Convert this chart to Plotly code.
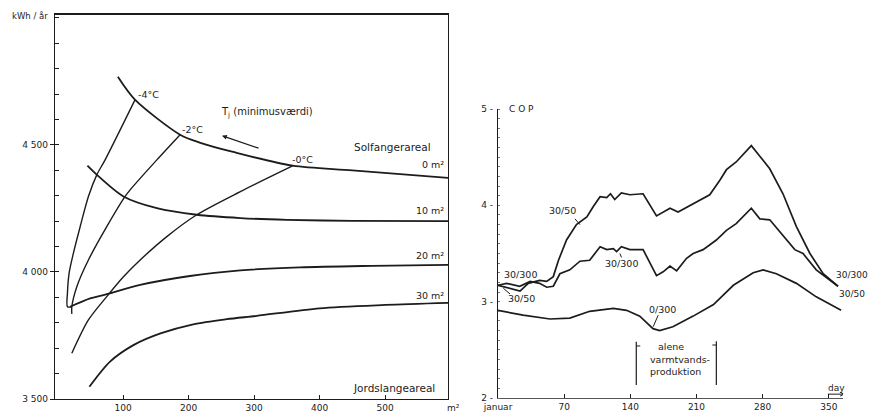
import plotly.graph_objects as go

# ---------------- Left panel data (kWh/år vs Jordslangeareal m²) ----------------
sol0_x = [92, 118, 187, 218, 268, 359, 450, 596]
sol0_y = [4768, 4678, 4540, 4508, 4472, 4418, 4400, 4370]
sol10_x = [45.5, 60, 100.5, 151.5, 212.5, 279, 350, 450, 596]
sol10_y = [4418, 4382, 4297, 4251, 4225, 4212, 4205, 4201, 4200]
sol20_x = [19, 49.6, 70, 126, 202, 279, 370, 480, 596]
sol20_y = [3863, 3896, 3909, 3949, 3984, 4006, 4018, 4024, 4028]
sol30_x = [48.5, 80, 115.7, 157, 207, 258, 304, 400, 500, 596]
sol30_y = [3548, 3647, 3712, 3758, 3794, 3814, 3827, 3857, 3870, 3878]

t4_x = [118.3, 72.5, 59.8, 47, 34.4, 24.1, 17.6, 15, 15, 21.7]
t4_y = [4678, 4441, 4382, 4297, 4178, 4074, 3996, 3917, 3863, 3863]
t2_x = [187, 151.5, 110.7, 103, 75, 47, 29.3, 21.7, 21.7]
t2_y = [4540, 4441, 4323, 4297, 4178, 4047, 3942, 3863, 3835]
t0_x = [359.5, 279, 212.5, 166.7, 126, 100.5, 75, 47, 21.7]
t0_y = [4418, 4316, 4225, 4139, 4047, 3981, 3903, 3811, 3680]

left_xticks = [100, 200, 300, 400, 500]
left_yticks = [3500, 4000, 4500]
left_ytext = ["3 500", "4 000", "4 500"]

# ---------------- Right panel data (COP vs day) ----------------
d3050 = [0, 23.3, 32, 44, 51.5, 58.5, 64, 72.5, 83, 94, 101, 108, 115, 119, 123.5,
         130.5, 139.5, 153.5, 167.7, 174.7, 182, 190.5, 203, 213.5, 224, 234.7, 241.7,
         252, 268, 277, 287.5, 301.5, 315.7, 330, 344, 359.7]
c3050 = [3.17, 3.11, 3.19, 3.22, 3.21, 3.26, 3.43, 3.64, 3.80, 3.88, 3.99, 4.09, 4.08,
         4.12, 4.06, 4.13, 4.11, 4.12, 3.89, 3.93, 3.97, 3.93, 4.00, 4.06, 4.11, 4.26,
         4.37, 4.45, 4.62, 4.51, 4.38, 4.12, 3.78, 3.50, 3.29, 3.16]
d30300 = [0, 9, 23, 34, 44, 51.5, 58.5, 65.5, 76, 86.7, 97, 108, 115, 122, 125.5, 130.5,
          139.5, 153.5, 167.7, 174.7, 182, 189, 199.5, 206.5, 217, 231, 241.7, 252, 268,
          277, 287.5, 301.5, 314, 322.7, 336.7, 359.7]
c30300 = [3.17, 3.19, 3.16, 3.21, 3.19, 3.15, 3.16, 3.29, 3.33, 3.42, 3.43, 3.57, 3.54,
          3.55, 3.52, 3.57, 3.54, 3.54, 3.27, 3.31, 3.37, 3.32, 3.45, 3.50, 3.54, 3.64,
          3.74, 3.81, 3.97, 3.86, 3.85, 3.68, 3.54, 3.50, 3.33, 3.16]
d0300 = [0, 26.5, 55, 76, 97, 122, 136, 150, 164, 171, 185, 206.5, 228, 249, 270, 280.5,
         294.5, 315.7, 336.7, 363]
c0300 = [2.91, 2.86, 2.82, 2.83, 2.90, 2.93, 2.91, 2.85, 2.72, 2.70, 2.74, 2.85, 2.97,
         3.17, 3.30, 3.33, 3.29, 3.19, 3.05, 2.91]

right_xticks = [0, 70, 140, 210, 280, 350]
right_xtext = ["januar", "70", "140", "210", "280", "350"]
right_yticks = [2, 3, 4, 5]
right_ytext = ["2 -", "3 -", "4 -", "5 -"]

INK = "#1c1c1c"
FONT = "DejaVu Sans"

fig = go.Figure()

def line(x, y, xa, ya, w=1.8, shape="spline"):
    fig.add_trace(go.Scatter(x=x, y=y, mode="lines", xaxis=xa, yaxis=ya,
                             line=dict(color=INK, width=w, shape=shape, smoothing=0.8),
                             hoverinfo="skip", showlegend=False))

for xs, ys in [(sol0_x, sol0_y), (sol10_x, sol10_y), (sol20_x, sol20_y), (sol30_x, sol30_y)]:
    line(xs, ys, "x", "y")
for xs, ys in [(t4_x, t4_y), (t2_x, t2_y), (t0_x, t0_y)]:
    line(xs, ys, "x", "y", w=1.4)

for xs, ys in [(d3050, c3050), (d30300, c30300), (d0300, c0300)]:
    line(xs, ys, "x2", "y2", w=1.7, shape="linear")

ann = []
def txt(x, y, t, xr="x", yr="y", xanchor="center", size=10, yanchor="middle"):
    ann.append(dict(x=x, y=y, xref=xr, yref=yr, text=t, showarrow=False,
                    xanchor=xanchor, yanchor=yanchor,
                    font=dict(family=FONT, size=size, color=INK)))

# left panel texts
txt(50/871, (414-16)/414, "kWh / år", "paper", "paper", xanchor="right", size=8.5)
txt(119, 4700, "-4°C", xanchor="left", size=9.5)
txt(187, 4560, "-2°C", xanchor="left", size=9.5)
txt(355, 4442, "-0°C", xanchor="left", size=9.5)
txt(247, 4626, "T<sub>j</sub> (minimusværdi)", xanchor="left", size=10)
txt(511, 4492, "Solfangerareal", size=10.5)
txt(593, 4421, "0 m²", xanchor="right", size=9.5)
txt(593, 4240, "10 m²", xanchor="right", size=9.5)
txt(593, 4063, "20 m²", xanchor="right", size=9.5)
txt(593, 3909, "30 m²", xanchor="right", size=9.5)
txt(514, 3543, "Jordslangeareal", size=10.5)
txt(453/871, (414-408)/414, "m²", "paper", "paper", size=9)
ann.append(dict(x=251, y=4536, ax=309, ay=4485, xref="x", yref="y", axref="x", ayref="y",
                showarrow=True, arrowhead=2, arrowsize=0.8, arrowwidth=1.2, arrowcolor=INK, text=""))

# right panel texts
txt(10, 5.0, "C O P", "x2", "y2", xanchor="left", size=9)
txt(68.7, 3.95, "30/50", "x2", "y2", size=9.5)
txt(130.8, 3.40, "30/300", "x2", "y2", size=9.5)
txt(23.3, 3.28, "30/300", "x2", "y2", size=9.5)
txt(25, 3.035, "30/50", "x2", "y2", size=9.5)
txt(174, 2.92, "0/300", "x2", "y2", size=9.5)
txt(870/871, 3.28, "30/300", "paper", "y2", xanchor="right", size=9)
txt(867/871, 3.08, "30/50", "paper", "y2", xanchor="right", size=9)
txt(167, 2.53, "alene", "x2", "y2", xanchor="left", size=9.5)
txt(159, 2.40, "varmtvands-", "x2", "y2", xanchor="left", size=9.5)
txt(159, 2.27, "produktion", "x2", "y2", xanchor="left", size=9.5)
txt(358, 2.10, "day", "x2", "y2", size=9)

shapes = []
def seg(x0, y0, x1, y1, xr="x2", yr="y2", w=1.0):
    shapes.append(dict(type="line", x0=x0, y0=y0, x1=x1, y1=y1, xref=xr, yref=yr,
                       line=dict(color=INK, width=w)))
# leader lines
seg(81.4, 3.86, 86.7, 3.80)
seg(12.7, 3.08, 5.6, 3.14)
seg(169.5, 2.86, 164.2, 2.74)
seg(129, 3.50, 130.6, 3.46)
# bracket
seg(146.3, 2.585, 146.3, 2.135, w=1.2)
seg(146.3, 2.54, 150.5, 2.54)
seg(231, 2.59, 231, 2.135, w=1.2)
seg(231, 2.55, 226.8, 2.55)
# day arrow
seg(349, 2.04, 366, 2.04)
seg(366, 2.04, 362, 2.06)
seg(366, 2.04, 362, 2.02)
# thick top border of left panel
shapes.append(dict(type="line", x0=0, x1=1, y0=1, y1=1, xref="x domain", yref="y domain",
                   line=dict(color=INK, width=2.2)))

tickfont = dict(family=FONT, size=9, color=INK)
fig.update_layout(
    width=871, height=414, margin=dict(l=0, r=0, t=0, b=0, autoexpand=False),
    paper_bgcolor="white", plot_bgcolor="white",
    annotations=ann, shapes=shapes,
    xaxis=dict(domain=[55/871, 448/871], range=[-4, 596], showgrid=False, zeroline=False,
               automargin=False,
               showline=True, linecolor=INK, linewidth=1.4, mirror=True,
               tickmode="array", tickvals=left_xticks, ticks="inside", ticklen=4,
               tickcolor=INK, tickfont=tickfont),
    yaxis=dict(domain=[15/414, 400/414], range=[3500, 5015], showgrid=False, zeroline=False,
               automargin=False,
               showline=True, linecolor=INK, linewidth=1.4, mirror=True,
               tickmode="array", tickvals=left_yticks, ticktext=left_ytext,
               ticks="outside", ticklen=4, tickcolor=INK, tickfont=tickfont,
               minor=dict(dtick=100, ticks="inside", ticklen=4, tickcolor=INK, showgrid=False)),
    xaxis2=dict(domain=[498/871, 843/871], range=[0, 365], anchor="y2", showgrid=False,
                automargin=False,
                zeroline=False, showline=True, linecolor="#555", linewidth=1,
                tickmode="array", tickvals=right_xticks, ticktext=right_xtext,
                ticks="inside", ticklen=4, tickcolor=INK, tickfont=tickfont),
    yaxis2=dict(domain=[16/414, 305/414], range=[2, 5], anchor="x2", showgrid=False,
                automargin=False,
                zeroline=False, showline=True, linecolor=INK, linewidth=1.2,
                tickmode="array", tickvals=right_yticks, ticktext=right_ytext,
                ticks="", tickfont=tickfont, ticklabelstandoff=2,
                minor=dict(dtick=0.1, ticks="inside", ticklen=2, tickcolor="#777", showgrid=False)),
)

fig.write_html("out.html")
